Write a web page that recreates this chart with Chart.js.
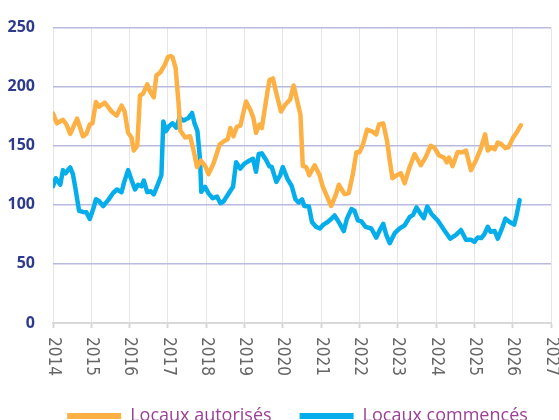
<!DOCTYPE html>
<html>
<head>
<meta charset="utf-8">
<script src="https://cdn.jsdelivr.net/npm/chart.js@4.4.1/dist/chart.umd.min.js"></script>
<style>
  html, body { margin: 0; padding: 0; background: #fff; overflow: hidden; }
  #wrap { position: relative; width: 559px; height: 435px; }
</style>
</head>
<body>
<div id="wrap"><canvas id="myChart"></canvas></div>
<script>
// data (year as decimal, value)
const yearTicks = [2014, 2015, 2016, 2017, 2018, 2019, 2020, 2021, 2022, 2023, 2024, 2025, 2026, 2027];
const valueTicks = [0, 50, 100, 150, 200, 250];

const autorisesYears = [2014.00, 2014.10, 2014.26, 2014.35, 2014.45, 2014.63, 2014.78, 2014.87, 2014.96, 2015.03,
  2015.12, 2015.20, 2015.35, 2015.53, 2015.66, 2015.79, 2015.87, 2015.96, 2016.05, 2016.11,
  2016.20, 2016.27, 2016.35, 2016.46, 2016.55, 2016.63, 2016.70, 2016.80, 2016.92, 2017.00,
  2017.07, 2017.12, 2017.20, 2017.28, 2017.32, 2017.45, 2017.58, 2017.67, 2017.76, 2017.86,
  2017.97, 2018.06, 2018.19, 2018.35, 2018.47, 2018.56, 2018.63, 2018.71, 2018.80, 2018.89,
  2019.04, 2019.15, 2019.23, 2019.30, 2019.39, 2019.45, 2019.60, 2019.65, 2019.74, 2019.83,
  2019.95, 2020.06, 2020.19, 2020.28, 2020.36, 2020.46, 2020.52, 2020.61, 2020.69, 2020.83,
  2020.96, 2021.04, 2021.15, 2021.26, 2021.39, 2021.46, 2021.61, 2021.72, 2021.83, 2021.92,
  2022.00, 2022.09, 2022.20, 2022.34, 2022.44, 2022.51, 2022.62, 2022.72, 2022.79, 2022.86,
  2022.97, 2023.08, 2023.18, 2023.31, 2023.44, 2023.60, 2023.73, 2023.86, 2023.95, 2024.08,
  2024.21, 2024.28, 2024.34, 2024.43, 2024.56, 2024.69, 2024.78, 2024.91, 2025.04, 2025.16,
  2025.28, 2025.35, 2025.44, 2025.53, 2025.61, 2025.70, 2025.81, 2025.89, 2026.01, 2026.10,
  2026.21];
const autorisesValues = [177.5, 169, 172, 168, 160, 173, 158, 160, 168, 169,
  187, 183, 186.5, 179, 175.5, 184, 179, 161, 157, 146,
  150, 192.5, 194, 202, 195, 191, 209.6, 212, 218.7, 225,
  226, 225, 216, 185, 163, 157, 158, 146, 132, 137.5,
  133, 126, 135, 151, 154, 155.5, 165, 158, 166, 167,
  187.5, 180.5, 173.6, 161, 168, 165, 196, 205.6, 207, 194.4,
  179, 184.7, 189, 201, 190, 176, 133, 132, 125, 133.5,
  125, 115.7, 107.4, 99, 109, 117, 109, 110, 126.6, 144.5,
  144.5, 151, 163.7, 162, 159.6, 168, 169, 154, 137.6, 122.5,
  125, 126.7, 118.4, 132, 143, 133.5, 140.4, 150, 148.6, 141.8,
  140, 136, 140, 132.7, 144.5, 144.5, 146, 129.4, 137.6, 147,
  159.6, 146, 148.6, 147, 152.7, 151.4, 148, 148.6, 156.9, 161,
  167.3];

const commencesYears = [2014.00, 2014.07, 2014.13, 2014.19, 2014.26, 2014.33, 2014.39, 2014.45, 2014.52, 2014.59,
  2014.68, 2014.78, 2014.87, 2014.96, 2015.05, 2015.12, 2015.20, 2015.31, 2015.44, 2015.57,
  2015.67, 2015.79, 2015.85, 2015.96, 2016.05, 2016.14, 2016.22, 2016.31, 2016.37, 2016.46,
  2016.55, 2016.63, 2016.75, 2016.83, 2016.88, 2016.95, 2017.03, 2017.12, 2017.22, 2017.30,
  2017.41, 2017.54, 2017.63, 2017.69, 2017.77, 2017.84, 2017.87, 2017.97, 2018.06, 2018.17,
  2018.28, 2018.37, 2018.45, 2018.56, 2018.70, 2018.78, 2018.89, 2018.99, 2019.13, 2019.22,
  2019.30, 2019.37, 2019.45, 2019.57, 2019.65, 2019.71, 2019.83, 2019.93, 2020.00, 2020.12,
  2020.23, 2020.33, 2020.41, 2020.50, 2020.56, 2020.68, 2020.76, 2020.87, 2020.97, 2021.06,
  2021.17, 2021.26, 2021.35, 2021.46, 2021.59, 2021.67, 2021.79, 2021.87, 2021.96, 2022.05,
  2022.16, 2022.31, 2022.44, 2022.53, 2022.62, 2022.70, 2022.79, 2022.92, 2023.05, 2023.18,
  2023.31, 2023.40, 2023.49, 2023.60, 2023.68, 2023.77, 2023.88, 2024.04, 2024.21, 2024.37,
  2024.52, 2024.65, 2024.78, 2024.91, 2025.00, 2025.09, 2025.18, 2025.26, 2025.35, 2025.42,
  2025.53, 2025.61, 2025.72, 2025.81, 2025.92, 2026.04, 2026.10, 2026.18];
const commencesValues = [115.7, 122.5, 119.8, 117, 129.4, 126.7, 129.4, 131.6, 126, 113,
  95, 94, 93.7, 88, 96.4, 104.7, 103.3, 99, 104, 110,
  113, 110.7, 118.4, 129.4, 121, 113, 117, 115.7, 120.6, 110.7,
  111.5, 108.8, 118.4, 125.3, 170.6, 162.4, 166.5, 169, 165.3, 173.6,
  171.4, 173.6, 177.8, 169.4, 162.5, 137.5, 111, 115.3, 109.7, 105.6,
  107, 101.4, 102.8, 108.3, 115.3, 136, 130.6, 134.7, 137.5, 139,
  128, 143, 143.6, 137.5, 132.5, 132, 119.4, 125, 132, 122,
  116, 104.7, 102, 104.7, 99, 98.6, 85.5, 81.3, 80, 83.3,
  85.5, 88, 91, 85.5, 77.8, 88, 96.4, 95, 86.8, 86,
  81.3, 80, 72.3, 78.6, 84, 74.5, 67.6, 76, 80, 82.7,
  89.6, 91.5, 97.8, 92.3, 88.8, 98.6, 92.3, 86.9, 78.7, 71.3,
  74.6, 78.7, 70.5, 70.5, 68.6, 72.4, 71.9, 75.1, 81.4, 77.3,
  77.9, 71.3, 80, 88.3, 85.5, 83.3, 91, 104];

const seriesNames = ["Locaux autorisés", "Locaux commencés"];

const toPoints = (xs, ys) => xs.map((x, i) => ({ x: x, y: ys[i] }));

const xFont = "'Liberation Sans Narrow', 'DejaVu Sans Condensed', sans-serif";

// x labels read top to bottom (rotated clockwise), so draw them by hand
const xLabelPlugin = {
  id: "xLabels",
  afterLayout(chart) {
    // legend sits a bit right of centre in the original
    chart.legend.left += 18;
    chart.legend.right += 18;
  },
  afterDraw(chart) {
    const sc = chart.scales.x;
    const ctx = chart.ctx;
    ctx.save();
    ctx.font = "17px " + xFont;
    ctx.fillStyle = "#666666";
    ctx.textAlign = "left";
    ctx.textBaseline = "middle";
    sc.ticks.forEach((t) => {
      const x = sc.getPixelForValue(t.value);
      ctx.save();
      ctx.translate(x, sc.top + 14);
      ctx.rotate(Math.PI / 2);
      ctx.fillText(String(t.value), 0, 0);
      ctx.restore();
    });
    ctx.restore();
  },
};

var ctx = document.getElementById("myChart").getContext("2d");
var myChart = new Chart(ctx, {
  type: "line",
  data: {
    datasets: [
      {
        label: seriesNames[0],
        data: toPoints(autorisesYears, autorisesValues),
        borderColor: "#FDB144",
        backgroundColor: "#FDB144",
        borderWidth: 4.5,
        pointRadius: 0,
        tension: 0,
        borderJoinStyle: "round",
        borderCapStyle: "round",
      },
      {
        label: seriesNames[1],
        data: toPoints(commencesYears, commencesValues),
        borderColor: "#05AEEB",
        backgroundColor: "#05AEEB",
        borderWidth: 4.5,
        pointRadius: 0,
        tension: 0,
        borderJoinStyle: "round",
        borderCapStyle: "round",
      },
    ],
  },
  options: {
    responsive: true,
    maintainAspectRatio: false,
    animation: false,
    layout: { padding: { left: 8, right: 8, top: 9, bottom: 0 } },
    plugins: {
      tooltip: { enabled: false },
      legend: {
        position: "bottom",
        labels: {
          usePointStyle: true,
          pointStyle: "line",
          pointStyleWidth: 54,
          padding: 28,
          color: "#9C3F96",
          font: { family: "'Open Sans', sans-serif", size: 18 },
          generateLabels: (chart) =>
            Chart.defaults.plugins.legend.labels.generateLabels(chart).map((l) => ({ ...l, lineWidth: 6 })),
        },
      },
    },
    scales: {
      x: {
        type: "linear",
        min: yearTicks[0],
        max: yearTicks[yearTicks.length - 1],
        afterBuildTicks: (axis) => {
          axis.ticks = yearTicks.map((v) => ({ value: v }));
        },
        afterFit: (axis) => {
          axis.height = 56;
          axis.paddingLeft = 0;
          axis.paddingRight = 0;
        },
        ticks: {
          autoSkip: false,
          minRotation: 90,
          maxRotation: 90,
          padding: 8,
          color: "rgba(0,0,0,0)",
          font: { family: xFont, size: 17 },
          callback: (v) => String(v),
        },
        grid: {
          color: "#e6e6e6",
          lineWidth: 1,
          tickLength: 5,
          tickColor: "#d6d6d6",
          tickWidth: 2,
        },
        border: { display: true, color: "#d9d9d9", width: 2 },
      },
      y: {
        min: valueTicks[0],
        max: valueTicks[valueTicks.length - 1],
        afterBuildTicks: (axis) => {
          axis.ticks = valueTicks.map((v) => ({ value: v }));
        },
        afterFit: (axis) => {
          axis.width = 45;
        },
        ticks: {
          padding: 18,
          color: "#2E3A8C",
          font: { family: "'Open Sans', sans-serif", size: 16, weight: "bold" },
        },
        grid: { color: "#b8badf", lineWidth: 1.5, drawTicks: false },
        border: { display: false },
      },
    },
  },
  plugins: [xLabelPlugin],
});
</script>
</body>
</html>
